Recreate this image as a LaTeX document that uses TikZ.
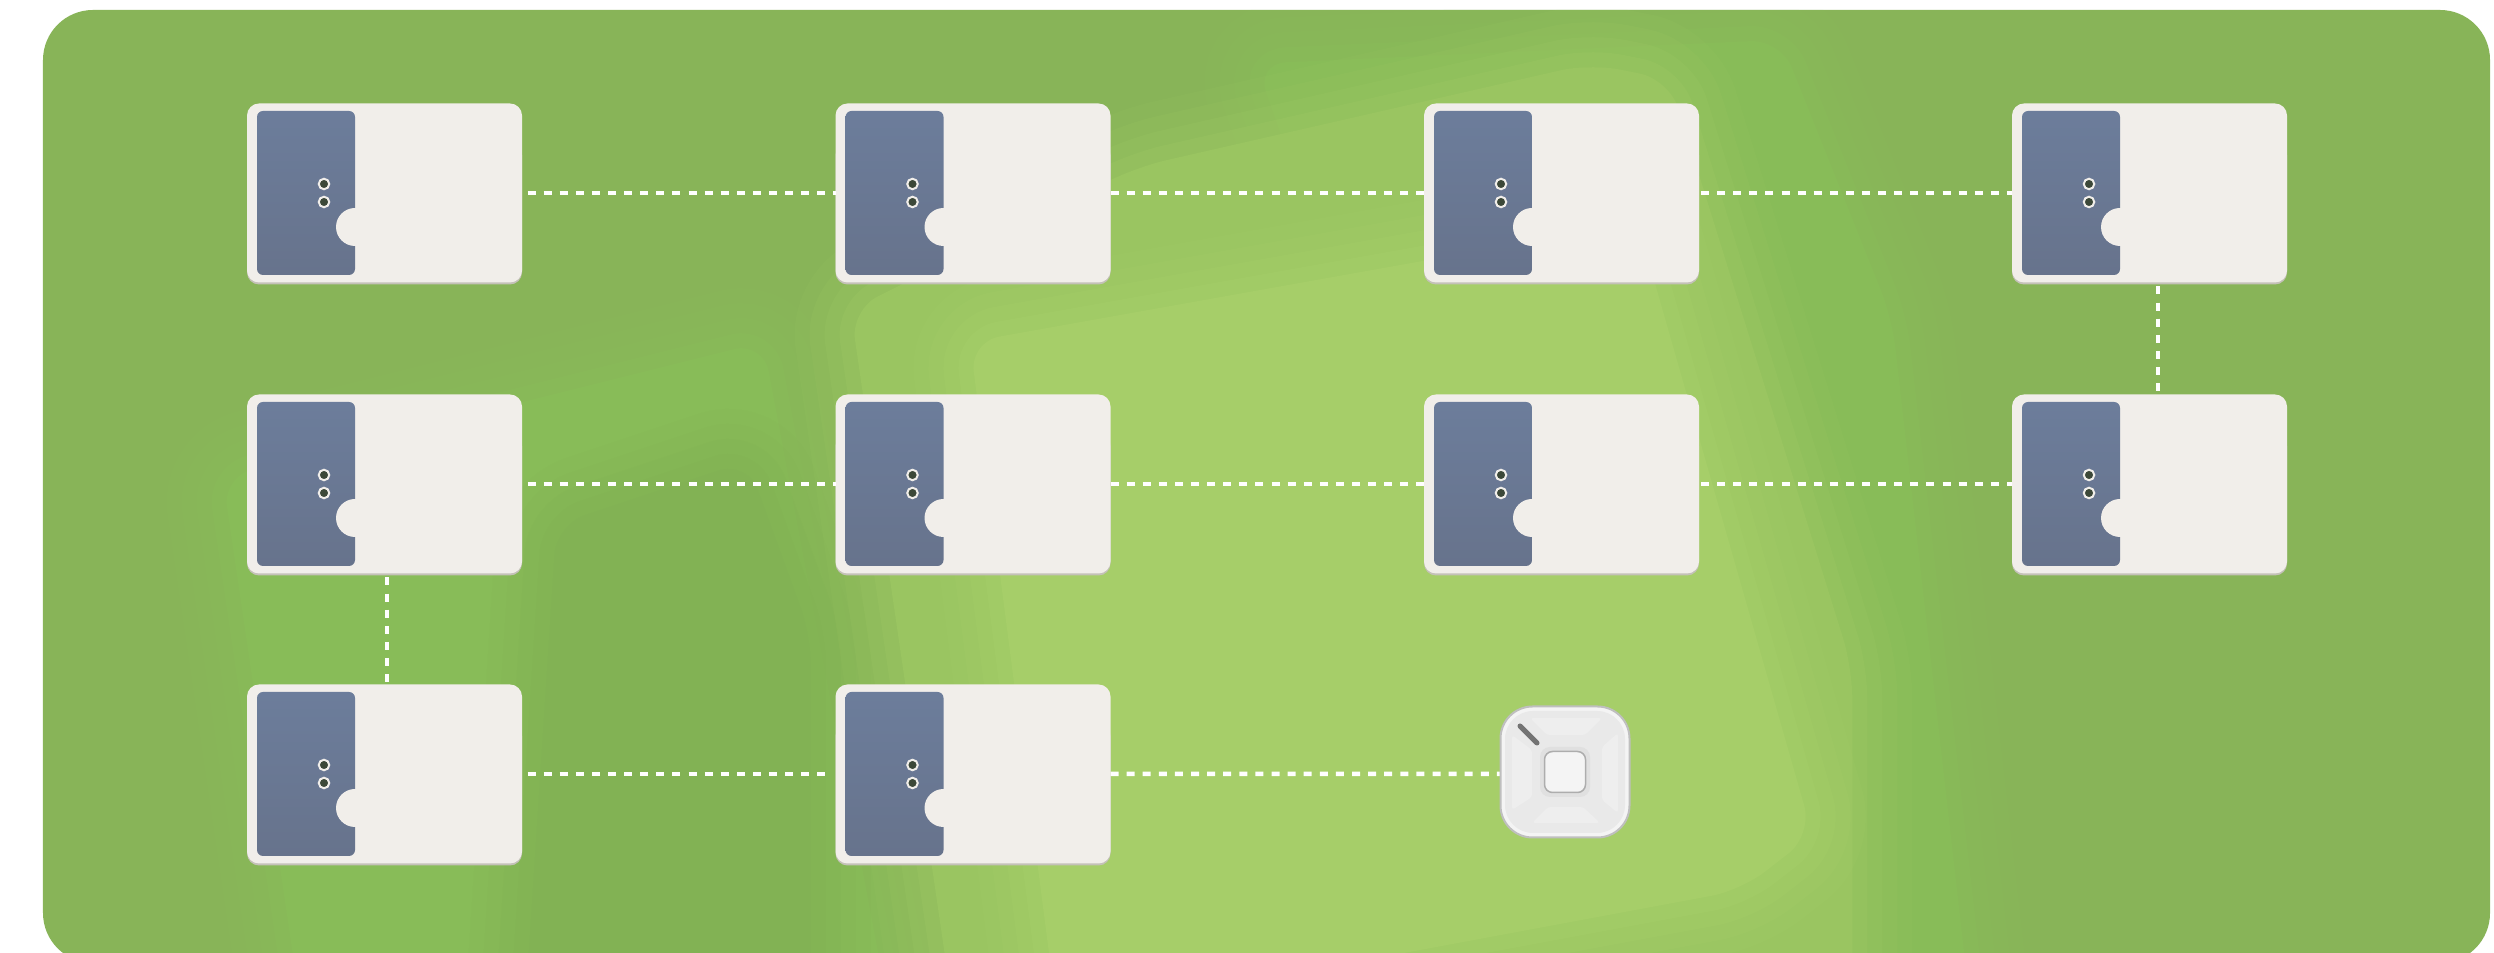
\documentclass[tikz,border=0pt]{standalone}
\usepackage{xcolor}
\usepackage{tikz}
\usetikzlibrary{calc}

\definecolor{lawn}{HTML}{88B458}
\definecolor{lawnmid}{HTML}{88BC58}
\definecolor{lawnlow}{HTML}{82B254}
\definecolor{lawnpale}{HTML}{9AC561}
\definecolor{lawnlight}{HTML}{A6CE69}
\definecolor{cardface}{HTML}{F1EEEA}
\definecolor{cardedge}{HTML}{C4C1B8}
\definecolor{doortop}{HTML}{6C7D9B}
\definecolor{doorlow}{HTML}{67738C}
\definecolor{holedark}{HTML}{3C4838}
\definecolor{hubface}{HTML}{E9E9E9}
\definecolor{hubrim}{HTML}{F4F4F4}
\definecolor{hubplate}{HTML}{EEEEEE}

\begin{document}
\begin{tikzpicture}[
    cardbody/.style={rectangle, rounded corners=0.12cm, fill=cardface, inner sep=0pt, outer sep=0pt,
                 minimum width=2.75cm, minimum height=1.79cm},
    doorpanel/.style={rectangle, rounded corners=0.06cm, top color=doortop, bottom color=doorlow, inner sep=0pt,
                 minimum width=0.98cm, minimum height=1.64cm},
    notch/.style={circle, fill=cardface, inner sep=0pt, minimum size=0.38cm},
    peephole/.style={circle, draw=cardface, line width=0.02cm, fill=holedark, inner sep=0pt, minimum size=0.105cm},
    link/.style={draw=white, line width=0.045cm, dash pattern=on 0.08cm off 0.081cm},
    softpatch/.style={fill=#1, line join=round, rounded corners=0.3cm,
                 preaction={draw=#1, line width=1.2cm, opacity=.15},
                 preaction={draw=#1, line width=0.9cm, opacity=.2},
                 preaction={draw=#1, line width=0.6cm, opacity=.3},
                 preaction={draw=#1, line width=0.3cm, opacity=.4}},
    hubplate/.style={fill=hubplate, rounded corners=0.03cm},
    doorcard/.pic={
        \fill[cardedge, rounded corners=0.12cm] (-1.375,-0.915) rectangle (1.375,0.5);
        \node[cardbody] (-body) at (0,0) {};
        \node[doorpanel] (-door) at (-0.785,0) {};
        \node[notch] (-notch) at (-0.295,-0.34) {};
        \fill[cardface] (-0.295,-0.53) rectangle (0,-0.15);
        \node[peephole] (-hole1) at (-0.605,0.09) {};
        \node[peephole] (-hole2) at (-0.605,-0.09) {};
    },
]
    \useasboundingbox (0,0) rectangle (24.94,9.53);
    \fill[white] (0,0) rectangle (24.94,9.53);

    % Lawn
    \begin{scope}
        \clip[rounded corners=0.5cm] (0.43,-0.10) rectangle (24.90,9.43);
        \fill[lawn] (0,-1) rectangle (25,10);
        \begin{scope}[shift={(0,9.53)},x=0.0159cm,y=-0.0159cm]
            \fill[softpatch=lawnmid] (140,300) -- (480,215) -- (560,640) -- (190,640) -- cycle;
            \fill[softpatch=lawnlow] (350,330) -- (470,290) -- (510,400) -- (510,640) -- (330,640) -- cycle;
            \fill[softpatch=lawnmid] (790,40) -- (1120,25) -- (1190,200) -- (1240,640) -- (1000,640) -- cycle;
            \fill[softpatch=lawnpale] (535,195) -- (715,105) -- (1000,40) -- (1050,50) -- (1165,420) -- (1165,640) -- (600,640) -- cycle;
            \fill[softpatch=lawnlight] (610,215) -- (1030,140) -- (1140,525) -- (1095,560) -- (665,640) -- cycle;
        \end{scope}
    \end{scope}

    % Cards, top row
    \pic (c1) at (3.845,7.60) {doorcard};
    \pic (c2) at (9.73,7.60) {doorcard};
    \pic (c3) at (15.615,7.60) {doorcard};
    \pic (c4) at (21.495,7.60) {doorcard};

    % Cards, middle row
    \pic (c5) at (3.845,4.69) {doorcard};
    \pic (c6) at (9.73,4.69) {doorcard};
    \pic (c7) at (15.615,4.69) {doorcard};
    \pic (c8) at (21.495,4.69) {doorcard};

    % Cards, bottom row
    \pic (c9) at (3.845,1.79) {doorcard};
    \pic (c10) at (9.73,1.79) {doorcard};

    % Switch
    \node[rectangle, rounded corners=0.32cm, draw=black!25, line width=0.02cm, fill=hubrim,
          inner sep=0pt, minimum width=1.29cm, minimum height=1.31cm] (hub) at (15.65,1.81) {};
    \node[rectangle, rounded corners=0.28cm, fill=hubface,
          inner sep=0pt, minimum width=1.2cm, minimum height=1.22cm] (hubtop) at (hub.center) {};
    \fill[hubplate] ($(hub.center)+(-0.35,0.54)$) -- ++(0.72,0) -- ++(-0.17,-0.17) -- ++(-0.38,0) -- cycle;
    \fill[hubplate] ($(hub.center)+(-0.33,-0.51)$) -- ++(0.68,0) -- ++(-0.17,0.16) -- ++(-0.35,0) -- cycle;
    \fill[hubplate] ($(hub.center)+(-0.53,0.37)$) -- ++(0,-0.75) -- ++(0.20,0.13) -- ++(0,0.47) -- cycle;
    \fill[hubplate] ($(hub.center)+(0.53,0.39)$) -- ++(0,-0.80) -- ++(-0.16,0.13) -- ++(0,0.53) -- cycle;
    \node[rectangle, rounded corners=0.1cm, fill=black!12, inner sep=0pt, minimum size=0.50cm] (halo) at (hub.center) {};
    \node[rectangle, rounded corners=0.08cm, draw=black!32, line width=0.015cm, fill=hubrim,
          inner sep=0pt, minimum size=0.41cm] (button) at (hub.center) {};
    \coordinate (slotA) at (15.20,2.27);
    \coordinate (slotB) at (15.37,2.10);
    \draw[black!55, line width=0.05cm, line cap=round] (slotA) -- (slotB);

    % Links
    \draw[link] ([xshift=0.055cm]c1-body.east) -- (c2-body.west);
    \draw[link] (c2-body.east) -- (c3-body.west);
    \draw[link] ([xshift=0.02cm]c3-body.east) -- (c4-body.west);
    \draw[link] ([xshift=0.085cm,yshift=-0.04cm]c4-body.south) -- ([xshift=0.085cm]c8-body.north);
    \draw[link] ([xshift=0.055cm]c5-body.east) -- (c6-body.west);
    \draw[link] (c6-body.east) -- (c7-body.west);
    \draw[link] ([xshift=0.02cm]c7-body.east) -- (c8-body.west);
    \draw[link] ([xshift=0.025cm,yshift=-0.04cm]c5-body.south) -- ([xshift=0.025cm]c9-body.north);
    \draw[link] ([xshift=0.055cm]c9-body.east) -- ([xshift=-0.06cm]c10-body.west);
    \draw[link] (c10-body.east) -- ([yshift=-0.02cm]hub.west);
\end{tikzpicture}
\end{document}
